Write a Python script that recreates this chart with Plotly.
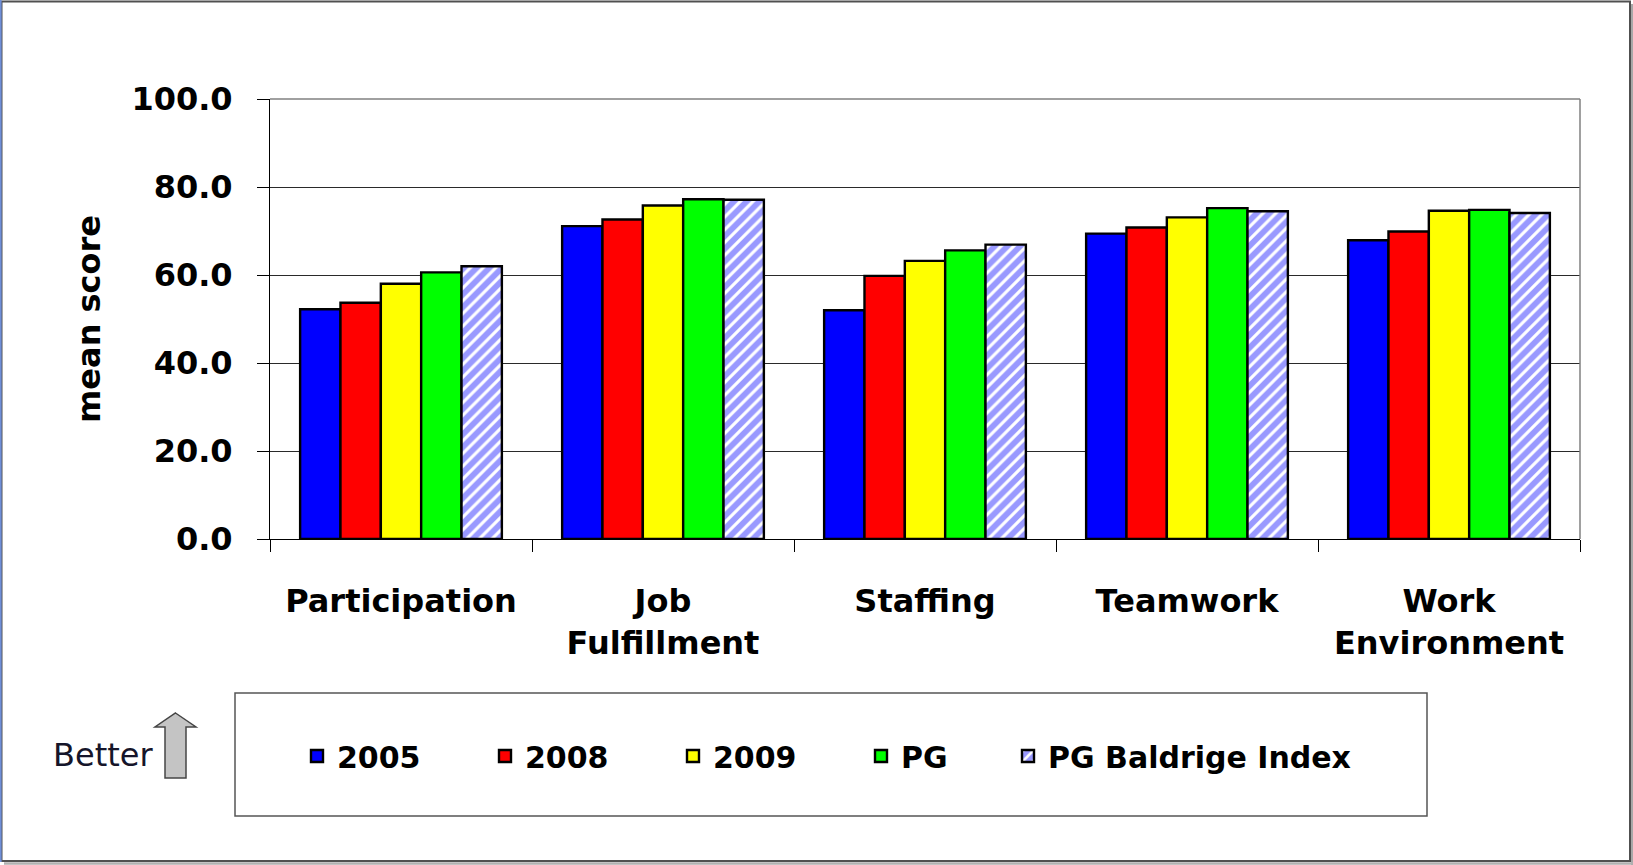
import plotly.graph_objects as go

categories = ["Participation", "Job<br>Fulfillment", "Staffing", "Teamwork", "Work<br>Environment"]
series_names = ["2005", "2008", "2009", "PG", "PG Baldrige Index"]
v2005 = [52.2, 71.1, 52.0, 69.4, 67.9]
v2008 = [53.7, 72.6, 59.8, 70.8, 69.9]
v2009 = [58.0, 75.8, 63.2, 73.1, 74.6]
vPG = [60.6, 77.2, 65.6, 75.2, 74.8]
vIndex = [62.0, 77.1, 66.9, 74.5, 74.1]
y_ticks = [0, 20, 40, 60, 80, 100]

colors = ["#0000FF", "#FF0000", "#FFFF00", "#00FF00", "#9999FF"]
values = [v2005, v2008, v2009, vPG, vIndex]

W, H = 1633, 865
L, R, T, B = 270, 53, 99, 326
PW, PH = W - L - R, H - T - B


def px(x):
    return (x - L) / PW


def py(y):
    return (H - B - y) / PH


fig = go.Figure()
for i, (name, vals) in enumerate(zip(series_names, values)):
    marker = dict(color=colors[i], line=dict(color="black", width=2.4))
    if i == 4:
        marker["pattern"] = dict(shape="/", fgcolor="white", bgcolor="#9999FF",
                                 size=9, solidity=0.35, fillmode="replace")
    fig.add_trace(go.Bar(name=name, x=categories, y=vals, marker=marker,
                         legend="legend2" if i == 4 else "legend"))

bold = dict(family="DejaVu Sans", size=32, color="black", weight="bold")

fig.update_layout(
    width=W, height=H, autosize=False,
    margin=dict(l=L, r=R, t=T, b=B),
    paper_bgcolor="white", plot_bgcolor="white",
    barmode="group", bargap=0.23, bargroupgap=0,
    font=dict(family="DejaVu Sans", color="black"),
    legend=dict(orientation="h", x=px(297), y=py(756), xanchor="left", yanchor="middle",
                font=dict(family="DejaVu Sans", size=30, color="black", weight="bold"),
                entrywidth=143, entrywidthmode="pixels", bgcolor="rgba(0,0,0,0)",
                borderwidth=0, traceorder="normal"),
    legend2=dict(orientation="h", x=px(1008), y=py(756), xanchor="left", yanchor="middle",
                 font=dict(family="DejaVu Sans", size=30, color="black", weight="bold"),
                 bgcolor="rgba(0,0,0,0)", borderwidth=0),
    xaxis=dict(type="category", tickson="boundaries", ticks="outside", ticklen=12,
               tickcolor="black", tickwidth=1, showline=True, linecolor="black", linewidth=1,
               tickfont=bold, ticklabelstandoff=34, showgrid=False),
    yaxis=dict(range=[0, 100], tickvals=y_ticks, tickformat=".1f", ticks="outside", ticklen=12,
               tickcolor="black", tickwidth=1, showline=True, linecolor="black", linewidth=1,
               showgrid=True, gridcolor="#2a2a2a", gridwidth=1, zeroline=False,
               tickfont=bold, ticklabelstandoff=18,
               title=dict(text="mean score", font=bold, standoff=21)),
)

shapes = []
# plot frame (top/right gray)
shapes.append(dict(type="line", xref="paper", yref="paper", x0=0, x1=1, y0=1, y1=1,
                   line=dict(color="#808080", width=1.5), layer="above"))
shapes.append(dict(type="line", xref="paper", yref="paper", x0=1, x1=1, y0=0, y1=1,
                   line=dict(color="#808080", width=1.5), layer="above"))
# legend box
shapes.append(dict(type="rect", xref="paper", yref="paper", x0=px(235), x1=px(1427),
                   y0=py(816), y1=py(693), line=dict(color="#555555", width=1.5)))
# outer border + shadow
shapes.append(dict(type="rect", xref="paper", yref="paper", x0=px(1.5), x1=px(1630),
                   y0=py(861), y1=py(1.5), line=dict(color="#505050", width=2)))
shapes.append(dict(type="line", xref="paper", yref="paper", x0=px(1632), x1=px(1632),
                   y0=py(865), y1=py(4), line=dict(color="#A8A8A8", width=2)))
shapes.append(dict(type="line", xref="paper", yref="paper", x0=px(4), x1=px(1633),
                   y0=py(863.5), y1=py(863.5), line=dict(color="#B0B0B0", width=2.5)))
shapes.append(dict(type="line", xref="paper", yref="paper", x0=px(0.8), x1=px(0.8),
                   y0=py(862), y1=py(0), line=dict(color="#6F8FD8", width=1.6)))
# "Better" arrow
pts = [(175.5, 713), (196, 727), (186, 727), (186, 778), (165, 778), (165, 727), (155, 727)]
path = "M " + " L ".join(f"{px(a):.5f},{py(b):.5f}" for a, b in pts) + " Z"
shapes.append(dict(type="path", xref="paper", yref="paper", path=path,
                   fillcolor="#C4C4C4", line=dict(color="#454545", width=1.5)))
fig.update_layout(shapes=shapes)

fig.add_annotation(text="Better", xref="paper", yref="paper", x=px(102.5), y=py(754.5),
                   showarrow=False, xanchor="center", yanchor="middle",
                   font=dict(family="DejaVu Sans", size=32, color="#15152a"))

fig.write_html("out.html", config={"displayModeBar": False},
               post_script="document.body.style.margin='0';document.body.style.overflow='hidden';")
